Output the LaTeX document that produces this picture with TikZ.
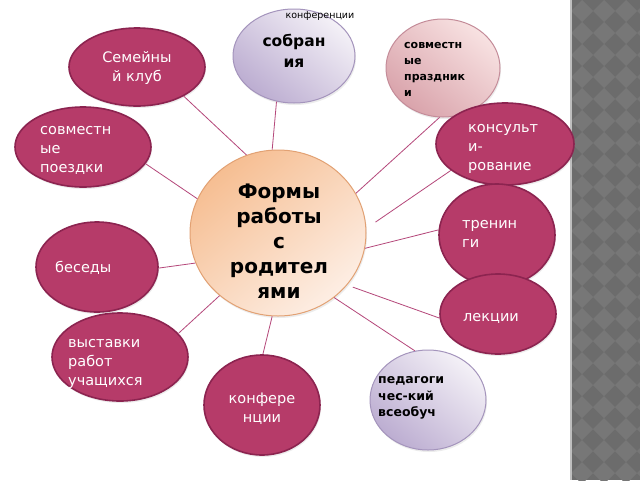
\documentclass[tikz,border=0pt]{standalone}
\usepackage{fontspec}
\setmainfont{DejaVu Sans}
\usetikzlibrary{shapes.geometric,shadows}
\definecolor{mag}{HTML}{B63B69}
\definecolor{magd}{HTML}{8C2450}
\definecolor{lnk}{HTML}{B5477A}
\definecolor{lavL}{HTML}{F4F1F7}
\definecolor{lavD}{HTML}{BCADD1}
\definecolor{lavB}{HTML}{A494BC}
\definecolor{pkL}{HTML}{F8E2E2}
\definecolor{pkD}{HTML}{D9A3AB}
\definecolor{pkB}{HTML}{C48C99}
\definecolor{peL}{HTML}{FDEEE4}
\definecolor{peD}{HTML}{F6BE92}
\definecolor{peB}{HTML}{E2A173}
\definecolor{panD}{HTML}{6C6C6C}
\definecolor{panL}{HTML}{777777}
\tikzset{
  blob/.style={ellipse, draw=magd, line width=1.6pt, fill=mag, inner sep=0pt,
    drop shadow={shadow xshift=1pt, shadow yshift=-2pt, opacity=0.15}},
  lav/.style={ellipse, draw=lavB, line width=1pt, inner sep=0pt,
    left color=lavL, right color=lavD, shading angle=-40,
    drop shadow={shadow xshift=1pt, shadow yshift=-2pt, opacity=0.15}},
  pnk/.style={ellipse, draw=pkB, line width=1pt, inner sep=0pt,
    left color=pkL, right color=pkD, shading angle=-40,
    drop shadow={shadow xshift=1pt, shadow yshift=-2pt, opacity=0.15}},
  hub/.style={ellipse, draw=peB, line width=1pt, inner sep=0pt,
    left color=peD, right color=peL, shading angle=40,
    drop shadow={shadow xshift=1pt, shadow yshift=-2pt, opacity=0.15}},
  wt/.style={text=white, align=left, inner sep=0pt, font=\fontsize{14.5}{19}\selectfont},
  wtc/.style={wt, align=center},
  bt/.style={text=black, align=left, inner sep=0pt, font=\bfseries\fontsize{12}{16.5}\selectfont},
  conn/.style={draw=lnk, line width=0.8pt}
}
\begin{document}
\begin{tikzpicture}[x=1pt,y=-1pt]
\useasboundingbox (0,0) rectangle (640,480);
\fill[white] (0,0) rectangle (640,480);
% right panel
\fill[panD] (571,0) rectangle (640,480);
\begin{scope}
\clip (571,0) rectangle (640,480);
\foreach \i in {0,...,3}{
  \foreach \j in {0,...,22}{
    \fill[panL] ({571+11*(2*\i+1)},{22*\j}) -- ++(11,11) -- ++(-11,11) -- ++(-11,-11) -- cycle;
  }
}
\end{scope}
\draw[line width=2pt, color=gray!50] (571,0) -- (571,480);

% nodes
\node[hub, minimum width=176, minimum height=166] (c) at (278,233) {};
\node[lav, minimum width=122, minimum height=94] (sob) at (294,56) {};
\node[pnk, minimum width=114, minimum height=98] (pra) at (443,68) {};
\node[blob, minimum width=136, minimum height=78] (klub) at (137,67) {};
\node[blob, minimum width=138, minimum height=82] (kons) at (505,144) {};
\node[blob, minimum width=136, minimum height=80] (poe) at (83,147) {};
\node[blob, minimum width=116, minimum height=102] (tre) at (497,235) {};
\node[blob, minimum width=122, minimum height=90] (bes) at (97,267) {};
\node[blob, minimum width=116, minimum height=80] (lek) at (498,314) {};
\node[blob, minimum width=136, minimum height=88] (vys) at (120,357) {};
\node[blob, minimum width=116, minimum height=100] (konf) at (262,405) {};
\node[lav, minimum width=116, minimum height=100] (ped) at (428,400) {};

% texts
\node[text=black, inner sep=0pt, font=\fontsize{9.5}{11}\selectfont] (top) at (320,16) {конференции};
\node[bt, align=center, font=\bfseries\fontsize{20}{25}\selectfont] (ct) at (279,241) {Формы\\работы\\с\\родител\\ями};
\node[bt, align=center, font=\bfseries\fontsize{15.5}{21}\selectfont] (sobt) at (294,51) {собран\\ия};
\node[bt, anchor=west, font=\bfseries\fontsize{11}{16}\selectfont] (prat) at (404,69) {совместн\\ые\\праздник\\и};
\node[wtc] (klubt) at (137,68) {Семейны\\й клуб};
\node[wt, anchor=west] (kont) at (468,149) {консульт\\и-\\рование};
\node[wt, anchor=west] (poet) at (40,150) {совместн\\ые\\поездки};
\node[wt, anchor=west] (tret) at (462,234) {тренин\\ги};
\node[wt, anchor=west] (best) at (55,268) {беседы};
\node[wt, anchor=west] (lekt) at (463,318) {лекции};
\node[wt, anchor=west] (vyst) at (68,364) {выставки\\работ\\учащихся};
\node[wtc] (konft) at (262,409) {конфере\\нции};
\node[bt, anchor=west, font=\bfseries\fontsize{12.5}{16.5}\selectfont] (pedt) at (378,398) {педагоги\\чес-кий\\всеобуч};

% connectors
\draw[conn] (c.94) -- (sob.-111);
\draw[conn] (c.112) -- (klub.-32);
\draw[conn] (c.27) -- (pra.-94);
\draw[conn, shorten <=11pt] (c.3) -- (kons.206);
\draw[conn] (c.157) -- (poe.-15);
\draw[conn] (c.-10) -- (tre.175);
\draw[conn] (c.200) -- (bes.-1);
\draw[conn, shorten <=6pt] (c.-37) -- (lek.184);
\draw[conn] (c.227) -- (vys.22);
\draw[conn] (c.-94) -- (konf.89);
\draw[conn] (c.-49) -- (ped.105);
\end{tikzpicture}
\end{document}
